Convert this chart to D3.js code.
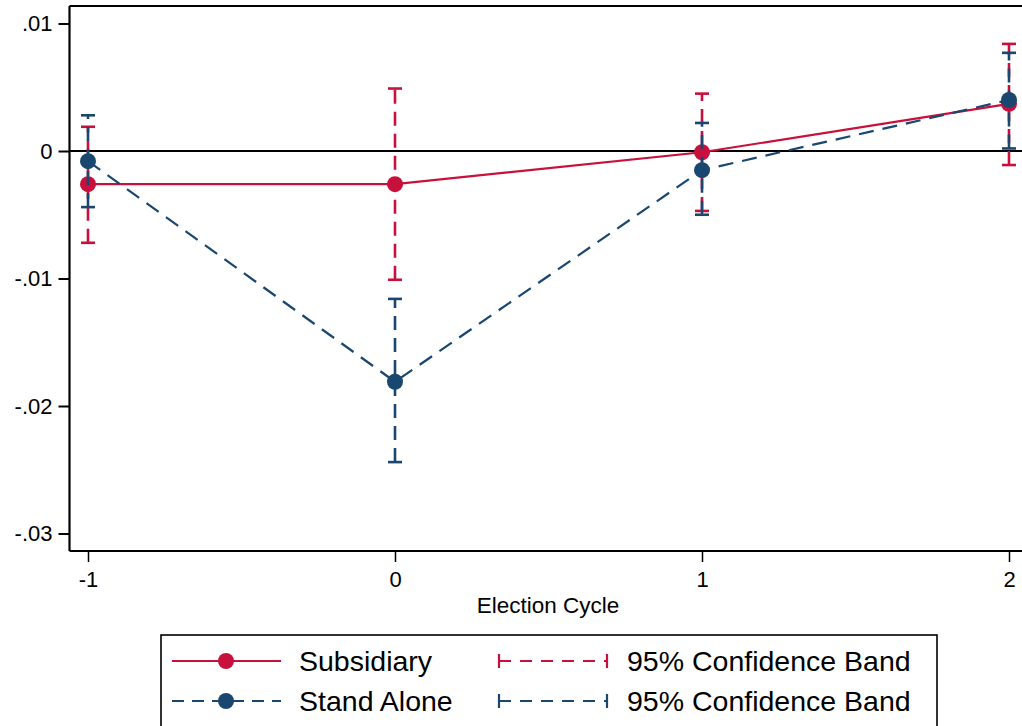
<!DOCTYPE html>
<html><head><meta charset="utf-8">
<script src="https://cdn.jsdelivr.net/npm/d3@7"></script>
<style>body{margin:0;background:#fff}svg{display:block;font-family:"Liberation Sans",Arial,sans-serif}</style>
</head><body><svg id="c" width="1022" height="726"></svg>
<script>
const cycles = [-1, 0, 1, 2];
const subsidiary = [-0.0026, -0.0026, -0.0001, 0.0037];
const subLo = [-0.0072, -0.0101, -0.0047, -0.0011];
const subHi = [0.0019, 0.0049, 0.0045, 0.0084];
const standAlone = [-0.0008, -0.0181, -0.0015, 0.0040];
const saLo = [-0.0044, -0.0244, -0.0050, 0.0002];
const saHi = [0.0028, -0.0116, 0.0022, 0.0077];
const yTicks = [0.01, 0, -0.01, -0.02, -0.03];
const yTickLabels = [".01", "0", "-.01", "-.02", "-.03"];
const xTickLabels = ["-1", "0", "1", "2"];
const legendLabels = ["Subsidiary", "Stand Alone", "95% Confidence Band", "95% Confidence Band"];

const RED = "#c8103c", BLUE = "#1a476f";
const FONT = "Liberation Sans, Arial, sans-serif";
const svg = d3.select("#c");
const x = d3.scaleLinear().domain([-1, 2]).range([88, 1009]);
const y = d3.scaleLinear().domain([-0.03, 0.01]).range([533.5, 23.5]);
const L = 69.5, T = 6, B = 551, R = 1030;

// frame
svg.append("line").attr("x1", L).attr("x2", R).attr("y1", T).attr("y2", T).attr("stroke", "#000").attr("stroke-width", 2);
// zero line
svg.append("line").attr("x1", L).attr("x2", R).attr("y1", y(0)).attr("y2", y(0)).attr("stroke", "#000").attr("stroke-width", 2);

// y axis
const yAxis = d3.axisLeft(y).tickValues(yTicks).tickFormat((d, i) => yTickLabels[i]).tickSize(11).tickPadding(6);
const gy = svg.append("g").attr("transform", `translate(${L},0)`).call(yAxis);
gy.select(".domain").attr("d", `M0,${T}V${B}`).attr("stroke-width", 2.2);
gy.selectAll(".tick line").attr("stroke-width", 2);
gy.selectAll("text").attr("font-size", 22).attr("fill", "#000").attr("font-family", FONT);

// x axis
const xAxis = d3.axisBottom(x).tickValues(cycles).tickFormat((d, i) => xTickLabels[i]).tickSize(11).tickPadding(9);
const gx = svg.append("g").attr("transform", `translate(0,${B})`).call(xAxis);
gx.select(".domain").attr("d", `M${L},0H${R}`).attr("stroke-width", 2.2);
gx.selectAll(".tick line").attr("stroke-width", 1.5);
gx.selectAll("text").attr("font-size", 22).attr("fill", "#000").attr("font-family", FONT);
svg.append("text").attr("x", 548).attr("y", 613).attr("text-anchor", "middle").attr("font-size", 22.5).text("Election Cycle");

function series(vals, lo, hi, color, lineDash) {
  const g = svg.append("g");
  cycles.forEach((c, i) => {
    g.append("line").attr("x1", x(c)).attr("x2", x(c)).attr("y1", y(lo[i])).attr("y2", y(hi[i]))
      .attr("stroke", color).attr("stroke-width", 2.6).attr("stroke-dasharray", "14,8");
    [lo[i], hi[i]].forEach(v => g.append("line").attr("x1", x(c) - 7).attr("x2", x(c) + 7)
      .attr("y1", y(v)).attr("y2", y(v)).attr("stroke", color).attr("stroke-width", 2.6));
  });
  const line = d3.line().x((d, i) => x(cycles[i])).y(d => y(d));
  g.append("path").datum(vals).attr("d", line).attr("fill", "none").attr("stroke", color)
    .attr("stroke-width", 2.2).attr("stroke-dasharray", lineDash);
  g.selectAll("circle").data(vals).join("circle").attr("cx", (d, i) => x(cycles[i])).attr("cy", d => y(d))
    .attr("r", 8).attr("fill", color);
}
series(subsidiary, subLo, subHi, RED, null);
series(standAlone, saLo, saHi, BLUE, "15,9");

// legend
const lg = svg.append("g");
lg.append("rect").attr("x", 161).attr("y", 635).attr("width", 776).attr("height", 120)
  .attr("fill", "none").attr("stroke", "#000").attr("stroke-width", 1.6);
const rows = [661, 701];
[[RED, null], [BLUE, "12,8"]].forEach(([col, dash], i) => {
  lg.append("line").attr("x1", 172).attr("x2", 281).attr("y1", rows[i]).attr("y2", rows[i])
    .attr("stroke", col).attr("stroke-width", 2.2).attr("stroke-dasharray", dash);
  lg.append("circle").attr("cx", 226).attr("cy", rows[i]).attr("r", 8).attr("fill", col);
  lg.append("text").attr("x", 299).attr("y", rows[i] + 10).attr("font-size", 28.5).text(legendLabels[i]);
  lg.append("line").attr("x1", 499).attr("x2", 607).attr("y1", rows[i]).attr("y2", rows[i])
    .attr("stroke", col).attr("stroke-width", 2.2).attr("stroke-dasharray", "12,9");
  [499, 607].forEach(xx => lg.append("line").attr("x1", xx).attr("x2", xx).attr("y1", rows[i] - 7).attr("y2", rows[i] + 7)
    .attr("stroke", col).attr("stroke-width", 2.2));
  lg.append("text").attr("x", 627).attr("y", rows[i] + 10).attr("font-size", 28.5).text(legendLabels[i + 2]);
});
</script></body></html>
